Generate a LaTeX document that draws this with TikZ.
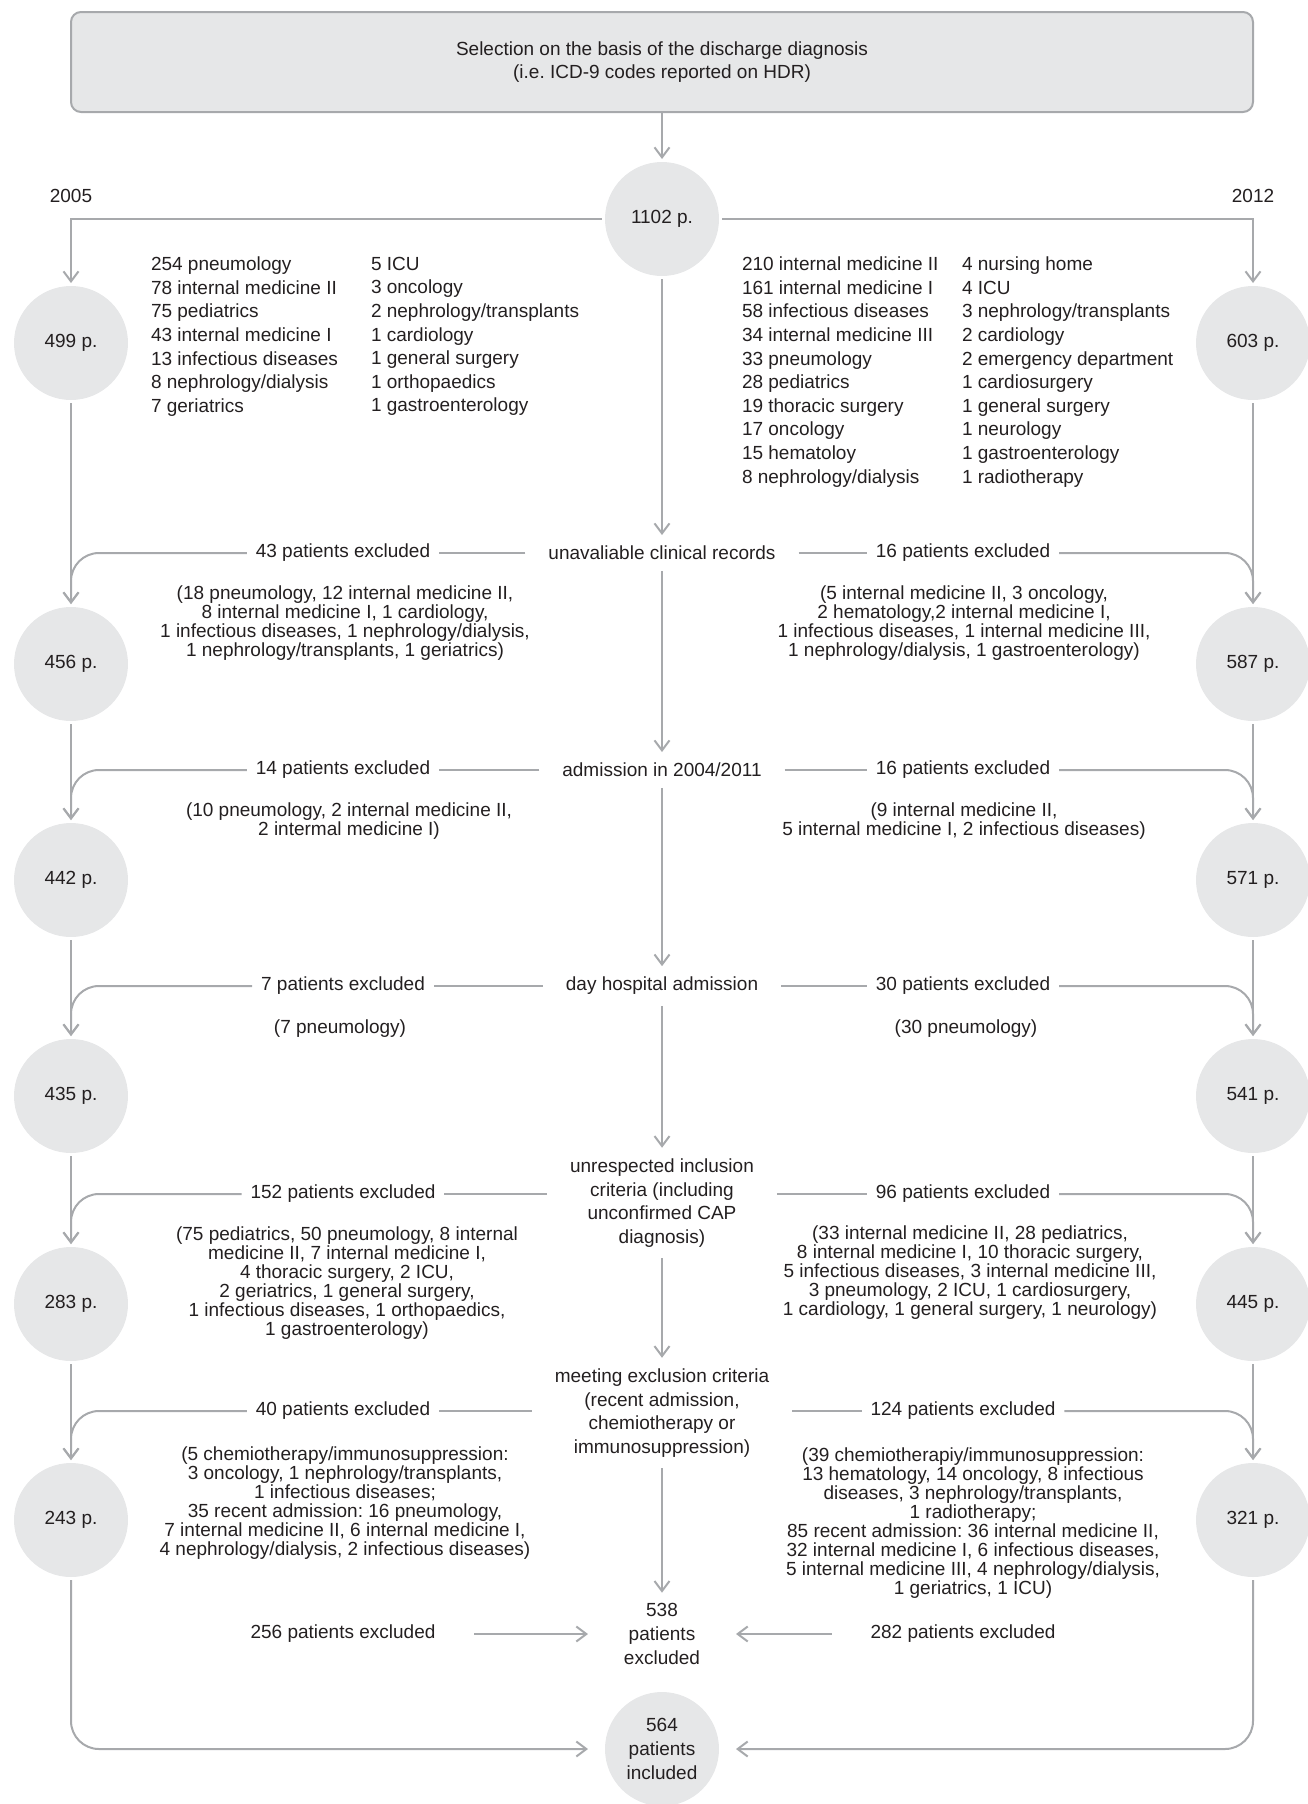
\documentclass[tikz,border=0pt]{standalone}
\usepackage{fontspec}
\setmainfont{Liberation Sans}
\usepackage{tikz}
\usetikzlibrary{arrows.meta}
\frenchspacing

\definecolor{linegray}{RGB}{167,169,172}
\definecolor{fillgray}{RGB}{230,231,232}
\definecolor{textgray}{RGB}{35,31,32}

\begin{document}
\begin{tikzpicture}[x = 1pt, y = -1pt, line width = 2pt,
                        every node/.style = {text = textgray, font = \fontsize{19}{23.6}\selectfont},
                        count/.style = {circle, fill = fillgray, minimum size = 114pt, inner sep = 0pt, outer sep = 3pt},
                        stage/.style = {align = center, inner xsep = 22pt, inner ysep = 10pt},
                        excl/.style = {inner xsep = 8pt},
                        detail/.style = {align = center, font = \fontsize{19}{19}\selectfont},
                        wards/.style = {align = left, anchor = north west, inner sep = 0pt},
                        flow/.style = {draw = linegray, -{Straight Barb[length = 10pt, width = 15pt]}},
                        link/.style = {draw = linegray}]
      \useasboundingbox (0, 0) rectangle (1307, 1804);

      \node [draw = linegray, fill = fillgray, rounded corners = 10pt, minimum width = 1182pt,
             minimum height = 100pt, align = center] (sel) at (662, 62)
            {Selection on the basis of the discharge diagnosis\\(i.e. ICD-9 codes reported on HDR)};

      % counts
      \node [count] (n1102) at (662, 219){1102 p.};
      \node (y05) at (71, 196){2005};
      \node (y12) at (1253, 196){2012};
      \node [count] (a1) at (71, 343){499 p.};
      \node [count] (a2) at (71, 664){456 p.};
      \node [count] (a3) at (71, 880){442 p.};
      \node [count] (a4) at (71, 1096){435 p.};
      \node [count] (a5) at (71, 1304){283 p.};
      \node [count] (a6) at (71, 1520){243 p.};
      \node [count] (b1) at (1253, 343){603 p.};
      \node [count] (b2) at (1253, 664){587 p.};
      \node [count] (b3) at (1253, 880){571 p.};
      \node [count] (b4) at (1253, 1096){541 p.};
      \node [count] (b5) at (1253, 1304){445 p.};
      \node [count] (b6) at (1253, 1520){321 p.};
      \node [count, align = center] (n564) at (662, 1749){564\\patients\\included};

      % wards
      \node [wards] (wa1) at (150, 256){254 pneumology\\78 internal medicine II\\75 pediatrics\\43 internal medicine I\\13 infectious diseases\\8 nephrology/dialysis\\7 geriatrics};
      \node [wards] (wa2) at (370, 256){5 ICU\\3 oncology\\2 nephrology/transplants\\1 cardiology\\1 general surgery\\1 orthopaedics\\1 gastroenterology};
      \node [wards] (wb1) at (741, 256){210 internal medicine II\\161 internal medicine I\\58 infectious diseases\\34 internal medicine III\\33 pneumology\\28 pediatrics\\19 thoracic surgery\\17 oncology\\15 hematoloy\\8 nephrology/dialysis};
      \node [wards] (wb2) at (961, 256){4 nursing home\\4 ICU\\3 nephrology/transplants\\2 cardiology\\2 emergency department\\1 cardiosurgery\\1 general surgery\\1 neurology\\1 gastroenterology\\1 radiotherapy};

      % stages
      \node [stage] (c1) at (662, 553){unavaliable clinical records};
      \node [stage] (c2) at (662, 770){admission in 2004/2011};
      \node [stage] (c3) at (662, 986){day hospital admission};
      \node [stage] (c4) at (662, 1203){unrespected inclusion\\criteria (including\\unconfirmed CAP\\diagnosis)};
      \node [stage] (c5) at (662, 1413){meeting exclusion criteria\\(recent admission,\\chemiotherapy or\\immunosuppression)};
      \node [stage, inner xsep = 35pt] (c6) at (662, 1634){538\\patients\\excluded};

      % exclusions
      \node [excl] (l1) at (343, 553){43 patients excluded};
      \node [excl] (l2) at (343, 770){14 patients excluded};
      \node [excl] (l3) at (343, 986){7 patients excluded};
      \node [excl] (l4) at (343, 1194){152 patients excluded};
      \node [excl] (l5) at (343, 1411){40 patients excluded};
      \node [excl] (l6) at (343, 1634){256 patients excluded};
      \node [excl] (r1) at (963, 553){16 patients excluded};
      \node [excl] (r2) at (963, 770){16 patients excluded};
      \node [excl] (r3) at (963, 986){30 patients excluded};
      \node [excl] (r4) at (963, 1194){96 patients excluded};
      \node [excl] (r5) at (963, 1411){124 patients excluded};
      \node [excl] (r6) at (963, 1634){282 patients excluded};

      \node [detail] (d1) at (345, 623){(18 pneumology, 12 internal medicine II,\\8 internal medicine I, 1 cardiology,\\1 infectious diseases, 1 nephrology/dialysis,\\1 nephrology/transplants, 1 geriatrics)};
      \node [detail] (d2) at (349, 821){(10 pneumology, 2 internal medicine II,\\2 intermal medicine I)};
      \node [detail] (d3) at (340, 1029){(7 pneumology)};
      \node [detail] (d4) at (347, 1283){(75 pediatrics, 50 pneumology, 8 internal\\medicine II, 7 internal medicine I,\\4 thoracic surgery, 2 ICU,\\2 geriatrics, 1 general surgery,\\1 infectious diseases, 1 orthopaedics,\\1 gastroenterology)};
      \node [detail] (d5) at (345, 1503){(5 chemiotherapy/immunosuppression:\\3 oncology, 1 nephrology/transplants,\\1 infectious diseases;\\35 recent admission: 16 pneumology,\\7 internal medicine II, 6 internal medicine I,\\4 nephrology/dialysis, 2 infectious diseases)};
      \node [detail] (e1) at (964, 623){(5 internal medicine II, 3 oncology,\\2 hematology,2 internal medicine I,\\1 infectious diseases, 1 internal medicine III,\\1 nephrology/dialysis, 1 gastroenterology)};
      \node [detail] (e2) at (964, 821){(9 internal medicine II,\\5 internal medicine I, 2 infectious diseases)};
      \node [detail] (e3) at (966, 1029){(30 pneumology)};
      \node [detail] (e4) at (970, 1273){(33 internal medicine II, 28 pediatrics,\\8 internal medicine I, 10 thoracic surgery,\\5 infectious diseases, 3 internal medicine III,\\3 pneumology, 2 ICU, 1 cardiosurgery,\\1 cardiology, 1 general surgery, 1 neurology)};
      \node [detail] (e5) at (973, 1523){(39 chemiotherapiy/immunosuppression:\\13 hematology, 14 oncology, 8 infectious\\diseases, 3 nephrology/transplants,\\1 radiotherapy;\\85 recent admission: 36 internal medicine II,\\32 internal medicine I, 6 infectious diseases,\\5 internal medicine III, 4 nephrology/dialysis,\\1 geriatrics, 1 ICU)};

      % main flow
      \draw [flow] (sel) -- (n1102);
      \draw [flow] (n1102) -| (a1);
      \draw [flow] (n1102) -| (b1);
      \draw [flow] (n1102) -- (c1);
      \draw [flow] (c1) -- (c2);
      \draw [flow] (c2) -- (c3);
      \draw [flow] (c3) -- (c4);
      \draw [flow] (c4) -- (c5);
      \draw [flow] (c5) -- (c6);
      \draw [flow] (a1) -- (a2);
      \draw [flow] (a2) -- (a3);
      \draw [flow] (a3) -- (a4);
      \draw [flow] (a4) -- (a5);
      \draw [flow] (a5) -- (a6);
      \draw [flow] (b1) -- (b2);
      \draw [flow] (b2) -- (b3);
      \draw [flow] (b3) -- (b4);
      \draw [flow] (b4) -- (b5);
      \draw [flow] (b5) -- (b6);

      % exclusions to the sides
      \draw [link] (c1.west |- l1) -- (l1);
      \draw [link] (c2.west |- l2) -- (l2);
      \draw [link] (c3.west |- l3) -- (l3);
      \draw [link] (c4.west |- l4) -- (l4);
      \draw [link] (c5.west |- l5) -- (l5);
      \draw [link] (c1.east |- r1) -- (r1);
      \draw [link] (c2.east |- r2) -- (r2);
      \draw [link] (c3.east |- r3) -- (r3);
      \draw [link] (c4.east |- r4) -- (r4);
      \draw [link] (c5.east |- r5) -- (r5);
      \draw [flow, rounded corners = 28pt] (l1) -| (a2);
      \draw [flow, rounded corners = 28pt] (l2) -| (a3);
      \draw [flow, rounded corners = 28pt] (l3) -| (a4);
      \draw [flow, rounded corners = 28pt] (l4) -| (a5);
      \draw [flow, rounded corners = 28pt] (l5) -| (a6);
      \draw [flow, rounded corners = 28pt] (r1) -| (b2);
      \draw [flow, rounded corners = 28pt] (r2) -| (b3);
      \draw [flow, rounded corners = 28pt] (r3) -| (b4);
      \draw [flow, rounded corners = 28pt] (r4) -| (b5);
      \draw [flow, rounded corners = 28pt] (r5) -| (b6);

      % totals
      \draw [flow, shorten < = 30pt] (l6) -- (c6);
      \draw [flow, shorten < = 30pt] (r6) -- (c6);
      \draw [flow, rounded corners = 28pt, shorten > = 14pt] (a6) |- (n564);
      \draw [flow, rounded corners = 28pt, shorten > = 14pt] (b6) |- (n564);
    \end{tikzpicture}
\end{document}
